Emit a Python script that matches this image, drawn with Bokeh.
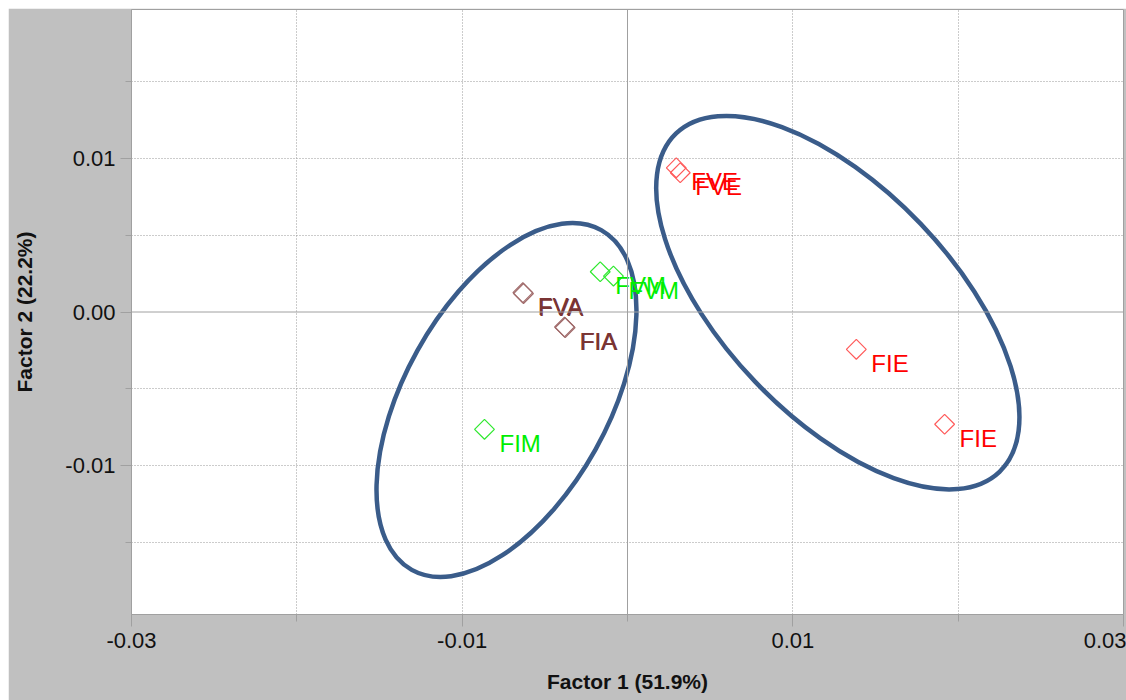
from math import pi

from bokeh.core.properties import value
from bokeh.embed import file_html
from bokeh.models import ColumnDataSource, FixedTicker, PrintfTickFormatter, Span
from bokeh.plotting import figure
from bokeh.resources import INLINE

# Factor scores of the samples (Factor 1, Factor 2)
sample_names = ["FVE", "FVE", "FIE", "FIE", "FVM", "FVM", "FVA", "FVA", "FIA", "FIA", "FIM"]
factor1 = [0.00295, 0.00319, 0.01384, 0.01918, -0.00165, -0.00085, -0.00633, -0.00629, -0.00381, -0.00377, -0.00865]
factor2 = [0.00939, 0.00907, -0.00243, -0.00731, 0.00262, 0.00234, 0.00126, 0.00120, -0.00098, -0.00102, -0.00764]
sample_group = ["E", "E", "E", "E", "M", "M", "A", "A", "A", "A", "M"]

# Grouping ellipses: centre, full width / height along their own axes, rotation (rad)
ellipse_cx = [-0.00732, 0.01272]
ellipse_cy = [-0.00573, 0.00061]
ellipse_w = [0.02353, 0.02831]
ellipse_h = [0.01327, 0.01490]
ellipse_angle = [1.062, -0.808]

# Axis ticks
x_ticks = [-0.03, -0.01, 0.01, 0.03]
x_minor = [-0.02, 0.0, 0.02]
y_ticks = [-0.01, 0.0, 0.01]
y_minor = [-0.015, -0.005, 0.005, 0.015]
x_grid = [-0.03, -0.02, -0.01, 0.01, 0.02, 0.03]
y_grid = [-0.015, -0.01, -0.005, 0.005, 0.01, 0.015]

marker_colors = {"E": "#ff5a5a", "M": "#2ee82e", "A": "#a06a6a"}
text_colors = {"E": "#ff0000", "M": "#00ee00", "A": "#7a3434"}

FONT = "Liberation Sans"
GRAY = "#a0a0a0"

p = figure(
    width=1118, height=692, margin=(8, 0, 0, 8),
    x_range=(-0.03, 0.03), y_range=(-0.0197, 0.0197),
    output_backend="svg", toolbar_location=None,
    min_border_left=123, min_border_right=3, min_border_top=1, min_border_bottom=86,
    border_fill_color="#c0c0c0", background_fill_color="white",
    outline_line_color=GRAY, outline_line_width=1,
)

# axes
p.xaxis.ticker = FixedTicker(ticks=x_ticks, minor_ticks=x_minor)
p.yaxis.ticker = FixedTicker(ticks=y_ticks, minor_ticks=y_minor)
p.xaxis.formatter = PrintfTickFormatter(format="%.2f")
p.yaxis.formatter = PrintfTickFormatter(format="%.2f")
p.xaxis.axis_label = "Factor 1 (51.9%)"
p.yaxis.axis_label = "Factor 2 (22.2%)"
for ax in (p.xaxis[0], p.yaxis[0]):
    ax.axis_line_color = GRAY
    ax.major_tick_line_color = GRAY
    ax.minor_tick_line_color = GRAY
    ax.major_tick_in = 0
    ax.minor_tick_in = 0
    ax.major_label_text_font = FONT
    ax.major_label_text_font_size = "22px"
    ax.major_label_text_color = "#111111"
    ax.axis_label_text_font = FONT
    ax.axis_label_text_font_size = "21px"
    ax.axis_label_text_font_style = "bold"
    ax.axis_label_text_color = "#111111"
p.xaxis.major_tick_out = 12
p.xaxis.minor_tick_out = 7
p.xaxis.major_label_standoff = 6
p.xaxis.axis_label_standoff = 19
p.yaxis.major_tick_out = 11
p.yaxis.minor_tick_out = 6
p.yaxis.major_label_standoff = 5
p.yaxis.axis_label_standoff = 26

# dotted grid
p.xgrid.ticker = FixedTicker(ticks=x_grid)
p.ygrid.ticker = FixedTicker(ticks=y_grid)
for g in (p.xgrid[0], p.ygrid[0]):
    g.grid_line_color = "#999999"
    g.grid_line_dash = "1 2"
    g.grid_line_width = 1

# zero lines
p.add_layout(Span(location=0, dimension="height", line_color=GRAY, line_width=1))
p.add_layout(Span(location=0, dimension="width", line_color=GRAY, line_width=1))

# ellipses
p.ellipse(x=ellipse_cx, y=ellipse_cy, width=ellipse_w, height=ellipse_h, angle=ellipse_angle,
          fill_color=None, line_color="#3a5c8a", line_width=4.5)

src = ColumnDataSource(dict(
    x=factor1, y=factor2, name=sample_names,
    mcolor=[marker_colors[g] for g in sample_group],
    tcolor=[text_colors[g] for g in sample_group],
))

p.scatter("x", "y", source=src, marker="square", angle=pi / 4, size=14,
          fill_color=None, line_color="mcolor", line_width=1.2)
p.text("x", "y", text="name", source=src, x_offset=15, y_offset=14,
       text_baseline="middle", text_align="left", text_font=value(FONT),
       text_font_size="24px", text_color="tcolor")

open("out.html", "w").write(file_html(p, INLINE))
